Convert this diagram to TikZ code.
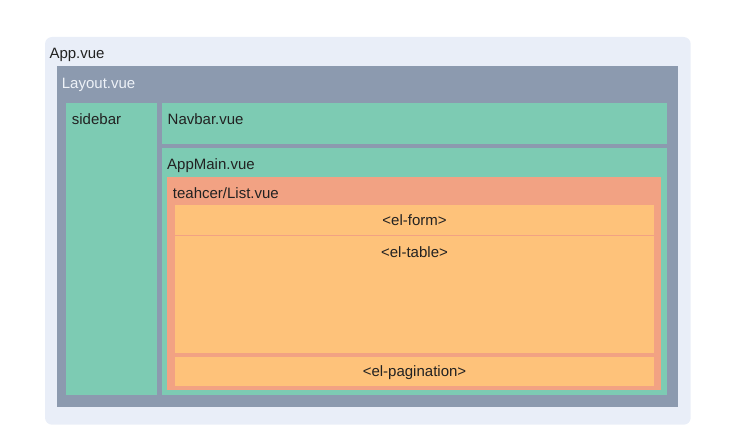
\documentclass[tikz,border=0pt]{standalone}
\usepackage{fontspec}
\setmainfont{Liberation Sans}
\definecolor{appbg}{HTML}{E9EEF8}
\definecolor{layoutbg}{HTML}{8C9AAF}
\definecolor{tealbg}{HTML}{7DCBB3}
\definecolor{salmonbg}{HTML}{F2A283}
\definecolor{orangebg}{HTML}{FEC27A}
\definecolor{txt}{HTML}{222222}
\definecolor{lighttxt}{HTML}{EEF2F8}
\tikzset{
  box/.style={anchor=north west, inner sep=0pt, outer sep=0pt, draw=none},
  lbl/.style={anchor=base west, inner sep=0pt, text=txt, font=\fontsize{15}{18}\selectfont},
  clbl/.style={anchor=base, inner sep=0pt, text=txt, font=\fontsize{15}{18}\selectfont},
}
\newcommand{\mybox}[6]{%
  \node[box, fill=#2, minimum width=#5pt-#3pt, minimum height=#6pt-#4pt] (#1) at (#3,#4) {};}
\begin{document}
\begin{tikzpicture}[x=1pt,y=-1pt]
\useasboundingbox (0,0) rectangle (746,446);
% App
\node[box, fill=appbg, rounded corners=7pt, minimum width=645.7pt, minimum height=387.7pt] (app) at (45,37) {};
\node[lbl] (apptxt) at ([xshift=4.3pt,yshift=-21.3pt]app.north west) {App.vue};
% Layout
\node[box, fill=layoutbg, minimum width=621pt, minimum height=340.7pt] (layout) at (56.7,66) {};
\node[lbl, text=lighttxt] (layouttxt) at ([xshift=5pt,yshift=-23pt]layout.north west) {Layout.vue};
% sidebar
\node[box, fill=tealbg, minimum width=91pt, minimum height=291.7pt] (sidebar) at (66,103.3) {};
\node[lbl] (sidebartxt) at ([xshift=5.7pt,yshift=-21.7pt]sidebar.north west) {sidebar};
% Navbar
\node[box, fill=tealbg, minimum width=504.7pt, minimum height=41pt] (navbar) at (162,103.3) {};
\node[lbl] (navbartxt) at ([xshift=5.5pt,yshift=-21.7pt]navbar.north west) {Navbar.vue};
% AppMain
\node[box, fill=tealbg, minimum width=504.7pt, minimum height=246.7pt] (appmain) at (162,148) {};
\node[lbl] (appmaintxt) at ([xshift=5pt,yshift=-21.3pt]appmain.north west) {AppMain.vue};
% List
\node[box, fill=salmonbg, minimum width=494.3pt, minimum height=213pt] (list) at (167,177) {};
\node[lbl] (listtxt) at ([xshift=5.7pt,yshift=-21.3pt]list.north west) {teahcer/List.vue};
% el-form
\node[box, fill=orangebg, minimum width=478.7pt, minimum height=30pt] (form) at (175,205) {};
\node[clbl] (formtxt) at (414.5,225.7) {<el-form>};
% el-table
\node[box, fill=orangebg, minimum width=478.7pt, minimum height=117pt] (table) at (175,236.3) {};
\node[clbl] (tabletxt) at (414.5,257.7) {<el-table>};
% el-pagination
\node[box, fill=orangebg, minimum width=478.7pt, minimum height=29pt] (pag) at (175,357) {};
\node[clbl] (pagtxt) at (414.5,376.7) {<el-pagination>};
\end{tikzpicture}
\end{document}
